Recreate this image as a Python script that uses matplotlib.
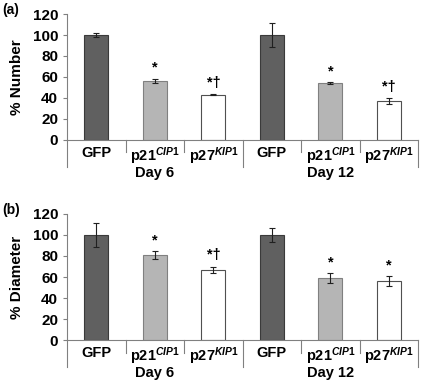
import matplotlib
matplotlib.use('Agg')
import matplotlib.pyplot as plt
import matplotlib.transforms as mtransforms
import numpy as np

plt.rcParams['font.family'] = 'Liberation Sans'
plt.rcParams['font.weight'] = 'bold'
plt.rcParams['axes.labelweight'] = 'bold'
plt.rcParams['mathtext.fontset'] = 'custom'
plt.rcParams['mathtext.rm'] = 'Liberation Sans:bold'
plt.rcParams['mathtext.it'] = 'Liberation Sans:italic:bold'
plt.rcParams['mathtext.bf'] = 'Liberation Sans:bold'

categories = ['GFP', r'p21$^{\mathit{CIP1}}$', r'p27$^{\mathit{KIP1}}$',
              'GFP', r'p21$^{\mathit{CIP1}}$', r'p27$^{\mathit{KIP1}}$']
groups = ['Day 6', 'Day 12']

number_vals = [100, 56.5, 43, 100, 54, 37]
number_err = [2, 2, 0.5, 11.5, 1, 2.5]
number_marks = ['', '*', '*†', '', '*', '*†']

diameter_vals = [100, 81, 67, 100, 59, 56]
diameter_err = [11, 3.5, 3, 6.5, 4.5, 4.5]
diameter_marks = ['', '*', '*†', '', '*', '*']

colors = ['#606060', '#b5b5b5', 'white', '#606060', '#b5b5b5', 'white']
edges = ['#3a3a3a', '#808080', '#505050', '#3a3a3a', '#808080', '#505050']

fig = plt.figure(figsize=(4.25, 3.8), dpi=100)


def panel(rect, vals, err, marks, ylabel, tag):
    ax = fig.add_axes(rect)
    x = np.arange(len(vals))
    ax.bar(x, vals, width=0.41, color=colors, edgecolor=edges, linewidth=0.8)
    ax.errorbar(x, vals, yerr=err, fmt='none', ecolor='#202020',
                elinewidth=0.8, capsize=2.5, capthick=0.8)
    for xi, v, e, m in zip(x, vals, err, marks):
        if m:
            ax.text(xi, v + e + 4, m, ha='center', va='bottom', fontsize=10.5)
    ax.set_xlim(-0.5, 5.5)
    ax.set_ylim(0, 120)
    ax.set_yticks(range(0, 121, 20))
    ax.tick_params(axis='y', labelsize=11, length=3, width=0.8, color='#808080')
    ax.set_xticks([])
    for s in ['top', 'right']:
        ax.spines[s].set_visible(False)
    ax.spines['left'].set_color('#808080')
    ax.spines['bottom'].set_color('#808080')
    ax.set_ylabel(ylabel, fontsize=11, labelpad=6)
    trans = mtransforms.blended_transform_factory(ax.transData, ax.transAxes)
    # category separators below the axis
    for b in [0.5, 1.5, 3.5, 4.5]:
        ax.plot([b, b], [0, -0.1], transform=trans, color='#808080',
                lw=0.8, clip_on=False)
    for b in [-0.5, 2.5, 5.5]:
        ax.plot([b, b], [0, -0.215], transform=trans, color='#808080',
                lw=0.8, clip_on=False)
    for xi, c in zip(x, categories):
        ax.text(xi, -0.045, c, transform=trans, ha='center', va='top', fontsize=10.5)
    for gi, g in enumerate(groups):
        ax.text(1 + 3 * gi, -0.205, g, transform=trans, ha='center', va='top', fontsize=10.5)
    fig.text(0.005, rect[1] + rect[3] + 0.01, tag, fontsize=10, ha='left', va='center')
    return ax


panel([0.158, 0.632, 0.826, 0.331], number_vals, number_err, number_marks,
      '% Number', '(a)')
panel([0.158, 0.105, 0.826, 0.332], diameter_vals, diameter_err, diameter_marks,
      '% Diameter', '(b)')

fig.savefig('out.png', dpi=100)
